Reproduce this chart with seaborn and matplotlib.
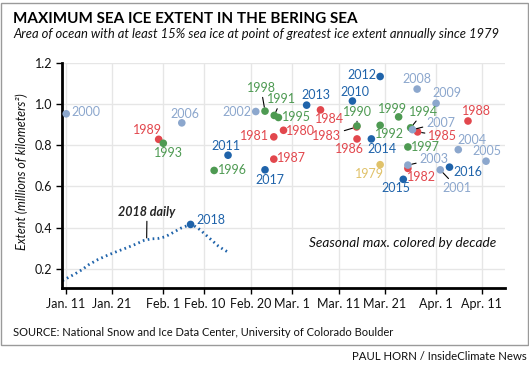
import numpy as np
import pandas as pd
import matplotlib.pyplot as plt
import seaborn as sns
from matplotlib.patches import Rectangle

# seasonal maximum: day of year and extent (millions of km2)
years = [1979, 1980, 1981, 1982, 1983, 1984, 1985, 1986, 1987, 1988,
         1989, 1990, 1991, 1992, 1993, 1994, 1995, 1996, 1997, 1998,
         1999, 2000, 2001, 2002, 2003, 2004, 2005, 2006, 2007, 2008,
         2009, 2010, 2011, 2012, 2013, 2014, 2015, 2016, 2017, 2018]
max_day = [79.0, 58.1, 56.0, 85.0, 73.9, 66.1, 87.1, 74.0, 56.0, 98.0,
           31.1, 74.0, 56.1, 79.0, 32.1, 85.6, 57.0, 43.1, 85.0, 54.1,
           83.0, 11.1, 92.0, 52.1, 85.0, 95.9, 101.9, 36.1, 86.0, 87.0,
           91.1, 73.0, 46.1, 79.0, 63.1, 77.1, 84.0, 94.0, 54.1, 38.0]
max_extent = [0.705, 0.872, 0.840, 0.687, 0.888, 0.971, 0.864, 0.830, 0.732, 0.917,
              0.828, 0.893, 0.944, 0.896, 0.809, 0.884, 0.934, 0.677, 0.791, 0.965,
              0.937, 0.952, 0.680, 0.963, 0.703, 0.778, 0.722, 0.908, 0.875, 1.072,
              1.003, 1.014, 0.751, 1.133, 0.994, 0.830, 0.634, 0.693, 0.680, 0.415]

# 2018 daily extent
daily_day = [10.3, 11.2, 13, 14.5, 16, 18, 20, 22, 24, 26, 28, 29.5, 31, 32.5,
             34, 36, 38, 39, 40, 41, 42, 43, 44, 45, 46]
daily_extent = [0.142, 0.153, 0.175, 0.195, 0.220, 0.245, 0.265, 0.283, 0.300,
                0.318, 0.338, 0.345, 0.347, 0.355, 0.373, 0.398, 0.415, 0.405,
                0.390, 0.370, 0.350, 0.330, 0.310, 0.295, 0.282]

tick_days = [11, 21, 32, 41, 51, 60, 70, 80, 91, 101]
tick_labels = ['Jan. 11', 'Jan. 21', 'Feb. 1', 'Feb. 10', 'Feb. 20', 'Mar. 1',
               'Mar. 11', 'Mar. 21', 'Apr. 1', 'Apr. 11']
y_ticks = [0.2, 0.4, 0.6, 0.8, 1.0, 1.2]

decade_colors = {'1970s': '#e0c26a', '1980s': '#e2474d', '1990s': '#4e9a52',
                 '2000s': '#8ca7cd', '2010s': '#1f63aa'}

# label offsets in pixels (dx, dy), and whether a leader line is drawn
label_pos = {
    1979: (-11, -9, 0), 1980: (17, -1, 0), 1981: (-19, 1, 0), 1982: (14, -9, 0),
    1983: (-30, -9, 1), 1984: (9, -9, 0), 1985: (25, -4, 1), 1986: (-8, -10, 0),
    1987: (18, 1, 0), 1988: (8, 10, 0), 1989: (-11, 9, 0), 1990: (0, 14, 1),
    1991: (7, 16, 1), 1992: (9, -9, 0), 1993: (5, -10, 0), 1994: (13, 16, 1),
    1995: (18, 0, 0), 1996: (18, 0, 0), 1997: (18, 0, 0), 1998: (-4, 23, 1),
    1999: (-6, 8, 0), 2000: (20, 2, 0), 2001: (17, -18, 1), 2002: (-19, 0, 0),
    2003: (26, 6, 1), 2004: (14, 10, 0), 2005: (1, 10, 0), 2006: (3, 9, 0),
    2007: (28, 7, 1), 2008: (0, 10, 0), 2009: (11, 10, 0), 2010: (3, 9, 0),
    2011: (-2, 9, 0), 2012: (-18, 1, 0), 2013: (9, 10, 0), 2014: (11, -10, 0),
    2015: (-7, -9, 0), 2016: (18, -5, 0), 2017: (5, -10, 0), 2018: (20, 4, 0),
}


def decade(y):
    if y < 1980:
        return '1970s'
    return str(y // 10 * 10) + 's'


sns.set_theme(style='whitegrid')
plt.rcParams['font.family'] = ['Lato', 'DejaVu Sans']

df = pd.DataFrame({'year': years, 'day': max_day, 'extent': max_extent})
df['decade'] = df['year'].apply(decade)
daily = pd.DataFrame({'day': daily_day, 'extent': daily_extent})

fig = plt.figure(figsize=(5.29, 3.66), dpi=100)
ax = fig.add_axes([0.1178, 0.2123, 0.8368, 0.6164])

sns.lineplot(x='day', y='extent', data=daily, ax=ax, color='#1f63aa', lw=2.0,
             linestyle=(0, (0.6, 1.2)), sort=False, zorder=2)
sns.scatterplot(x='day', y='extent', hue='decade', palette=decade_colors, data=df,
                ax=ax, s=30, linewidth=0, legend=False, zorder=3)

for y, d, e in zip(years, max_day, max_extent):
    dx, dy, lead = label_pos[y]
    col = decade_colors[decade(y)]
    arrow = dict(arrowstyle='-', color='black', lw=0.8, shrinkA=0, shrinkB=3) if lead else None
    ax.annotate(str(y), (d, e), xytext=(dx, dy), textcoords='offset pixels',
                ha='center', va='center', fontsize=9, color=col,
                arrowprops=arrow, zorder=4)

# "2018 daily" callout with a vertical leader down to the line
ax.annotate('2018 daily', (28.5, 0.343), xytext=(147, 148), textcoords='figure pixels',
            ha='center', va='bottom', fontsize=9, fontweight='bold', style='italic',
            arrowprops=dict(arrowstyle='-', color='black', lw=0.8, shrinkA=0, shrinkB=1))

ax.text(0.98, 0.2, 'Seasonal max. colored by decade', transform=ax.transAxes,
        ha='right', va='center', fontsize=9.8, style='italic', color='#111111')

ax.set_xlim(10.26, 106.0)
ax.set_ylim(0.105, 1.2)
ax.set_xticks(tick_days)
ax.set_xticklabels(tick_labels)
ax.set_yticks(y_ticks)
ax.set_yticklabels(['0.2', '0.4', '0.6', '0.8', '1.0', '1.2'])
ax.set_xlabel('')
ax.set_ylabel('')
ax.grid(color='#e6e6e6', lw=1)
ax.tick_params(axis='both', which='major', length=4, width=1, color='black',
               labelsize=9, labelcolor='#111111', pad=3, left=True, bottom=True)
for side in ['top', 'right']:
    ax.spines[side].set_visible(False)
for side in ['left', 'bottom']:
    ax.spines[side].set_color('black')
    ax.spines[side].set_linewidth(2)

fig.text(22 / 529, 1 - 172 / 366, 'Extent (millions of kilometers²)', rotation=90,
         ha='center', va='center', fontsize=9, style='italic', color='#111111')

fig.text(13 / 529, 1 - 19 / 366, 'MAXIMUM SEA ICE EXTENT IN THE BERING SEA',
         ha='left', va='center', fontsize=11, fontweight='bold', color='black')
fig.text(13 / 529, 1 - 33.5 / 366,
         'Area of ocean with at least 15% sea ice at point of greatest ice extent annually since 1979',
         ha='left', va='center', fontsize=9.35, style='italic', color='#111111')
fig.text(13 / 529, 1 - 333 / 366,
         'SOURCE: National Snow and Ice Data Center, University of Colorado Boulder',
         ha='left', va='center', fontsize=8.05, color='#111111')
fig.text(527 / 529, 1 - 357 / 366, 'PAUL HORN / InsideClimate News',
         ha='right', va='center', fontsize=8.2, color='#111111')

fig.patches.append(Rectangle((1 / 529, 1 - 345 / 366), 527 / 529, 342 / 366,
                             transform=fig.transFigure, fill=False,
                             edgecolor='#9a9a9a', lw=1))

fig.savefig('out.png', dpi=100)
